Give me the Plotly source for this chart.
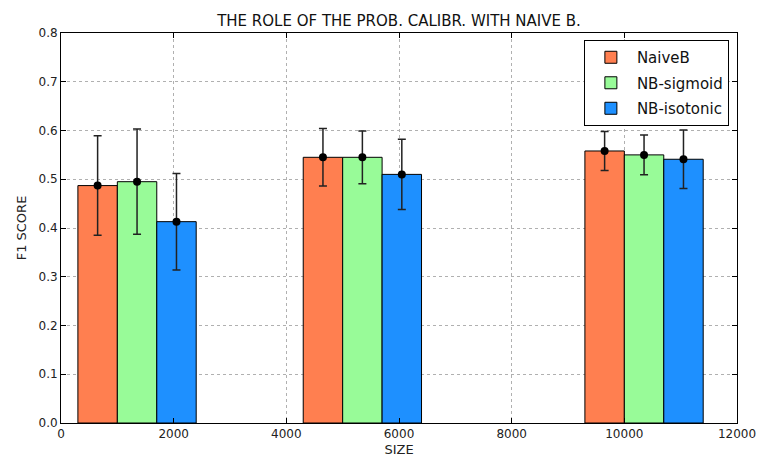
import plotly.graph_objects as go

# Training-set sizes and F1 scores (mean and spread) for each calibration variant
sizes = [1000, 5000, 10000]
series_names = ["NaiveB", "NB-sigmoid", "NB-isotonic"]
naiveb_mean = [0.487, 0.545, 0.558]
naiveb_err = [0.102, 0.059, 0.040]
sigmoid_mean = [0.495, 0.545, 0.550]
sigmoid_err = [0.108, 0.054, 0.041]
isotonic_mean = [0.413, 0.510, 0.541]
isotonic_err = [0.099, 0.072, 0.060]
x_ticks = [0, 2000, 4000, 6000, 8000, 10000, 12000]
x_ticktext = ["0", "2000", "4000", "6000", "8000", "10000", "12000"]
y_ticks = [0.0, 0.1, 0.2, 0.3, 0.4, 0.5, 0.6, 0.7, 0.8]

colors = ["#FF7F50", "#98FB98", "#1E90FF"]
bar_width = 700
# bar centres relative to each size: one bar left of it, two to the right
center_shift = [-0.5, 0.5, 1.5]

means = [naiveb_mean, sigmoid_mean, isotonic_mean]
errs = [naiveb_err, sigmoid_err, isotonic_err]

fig = go.Figure()
for name, color, shift, m in zip(series_names, colors, center_shift, means):
    xs = [s + shift * bar_width for s in sizes]
    fig.add_trace(go.Bar(
        x=xs, y=m, width=bar_width, name=name, legendgroup=name,
        marker=dict(color=color, line=dict(color="black", width=1)),
    ))

for shift, m, e in zip(center_shift, means, errs):
    xs = [s + shift * bar_width for s in sizes]
    fig.add_trace(go.Scatter(
        x=xs, y=m, mode="markers", showlegend=False,
        marker=dict(color="black", size=8),
        error_y=dict(type="data", array=e, color="#222222", thickness=1.5, width=4),
    ))

axis_common = dict(
    showline=True, linecolor="black", linewidth=1, mirror="ticks",
    ticks="inside", ticklen=5, tickcolor="black",
    showgrid=True, gridcolor="#b0b0b0", griddash="dot", gridwidth=1,
    zeroline=False, automargin=False,
    tickfont=dict(family="DejaVu Sans", size=12, color="#222222"),
)

fig.update_layout(
    width=758, height=461,
    margin=dict(l=61, r=21, t=33, b=38),
    paper_bgcolor="white", plot_bgcolor="white",
    barmode="overlay",
    title=dict(text="THE ROLE OF THE PROB. CALIBR. WITH NAIVE B.",
               x=(61 + 737) / 2 / 758, xanchor="center", y=0.955, yanchor="middle",
               font=dict(family="DejaVu Sans", size=15, color="#111111")),
    xaxis=dict(range=[0, 12000], tickvals=x_ticks, ticktext=x_ticktext,
               title=dict(text="SIZE", font=dict(family="DejaVu Sans", size=13, color="#222222"), standoff=4),
               **axis_common),
    yaxis=dict(range=[0, 0.8], tickvals=y_ticks, tickformat=".1f",
               title=dict(text="F1 SCORE", font=dict(family="DejaVu Sans", size=13, color="#222222"), standoff=8),
               **axis_common),
    legend=dict(x=0.988, xanchor="right", y=0.982, yanchor="top",
                bordercolor="black", borderwidth=1, bgcolor="white",
                itemwidth=42, tracegroupgap=3, traceorder="grouped",
                font=dict(family="DejaVu Sans", size=15, color="#111111")),
    showlegend=True,
)

fig.write_html("out.html")
